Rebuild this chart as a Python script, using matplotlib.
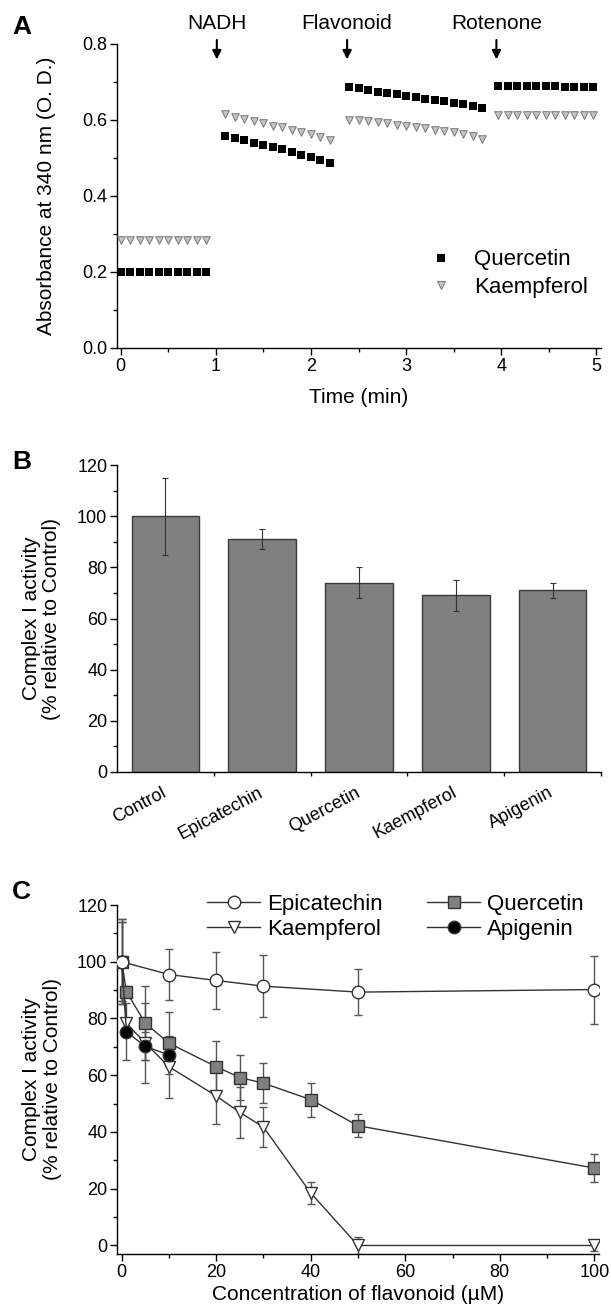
import matplotlib.pyplot as plt
from matplotlib.ticker import MultipleLocator, FixedLocator
from matplotlib.lines import Line2D

plt.rcParams['font.family'] = ['Liberation Sans', 'DejaVu Sans']
plt.rcParams['axes.linewidth'] = 1.0

# --- Panel A: absorbance traces ---
time_a = [0.0, 0.1, 0.2, 0.3, 0.4, 0.5, 0.6, 0.7, 0.8, 0.9,
          1.1, 1.2, 1.3, 1.4, 1.5, 1.6, 1.7, 1.8, 1.9, 2.0, 2.1, 2.2,
          2.4, 2.5, 2.6, 2.7, 2.8, 2.9, 3.0, 3.1, 3.2, 3.3, 3.4, 3.5, 3.6, 3.7, 3.8,
          3.97, 4.07, 4.17, 4.27, 4.37, 4.47, 4.57, 4.67, 4.77, 4.87, 4.97]
quercetin_a = [0.200, 0.200, 0.200, 0.200, 0.200, 0.200, 0.200, 0.200, 0.200, 0.200,
               0.558, 0.552, 0.547, 0.539, 0.533, 0.528, 0.523, 0.516, 0.509, 0.502, 0.496, 0.486,
               0.686, 0.683, 0.679, 0.674, 0.672, 0.668, 0.664, 0.660, 0.655, 0.653, 0.649, 0.646,
               0.641, 0.637, 0.632,
               0.690, 0.690, 0.690, 0.689, 0.689, 0.689, 0.689, 0.688, 0.688, 0.688, 0.687]
kaempferol_a = [0.284, 0.284, 0.284, 0.284, 0.284, 0.284, 0.284, 0.284, 0.284, 0.284,
                0.615, 0.607, 0.602, 0.597, 0.591, 0.585, 0.581, 0.574, 0.568, 0.562, 0.556, 0.547,
                0.601, 0.600, 0.597, 0.595, 0.591, 0.588, 0.584, 0.582, 0.578, 0.574, 0.572, 0.568,
                0.564, 0.558, 0.550,
                0.612, 0.612, 0.612, 0.612, 0.612, 0.612, 0.612, 0.612, 0.612, 0.612, 0.612]
event_labels = ["NADH", "Flavonoid", "Rotenone"]
event_times = [1.01, 2.38, 3.95]

# --- Panel B: complex I activity, single dose ---
groups_b = ["Control", "Epicatechin", "Quercetin", "Kaempferol", "Apigenin"]
activity_b = [100, 91, 74, 69, 71]
error_b = [15, 4, 6, 6, 3]

# --- Panel C: dose response ---
epi_conc = [0, 10, 20, 30, 50, 100]
epi_act = [100, 95.5, 93.4, 91.4, 89.3, 90.2]
epi_err = [15, 9, 10, 11, 8, 12]

conc = [0, 1, 5, 10, 20, 25, 30, 40, 50, 100]
quer_act = [100, 89.4, 78.3, 71.3, 63.0, 59.2, 57.2, 51.4, 42.2, 27.3]
quer_err = [14, 2, 13, 11, 9, 8, 7, 6, 4, 5]
kaem_act = [100, 78.3, 71.3, 63.0, 52.7, 46.9, 41.7, 18.5, 0, 0]
kaem_err = [15, 2, 14, 11, 10, 9, 7, 4, 3, 2]

api_conc = [0, 1, 5, 10]
api_act = [100, 75.3, 70.2, 67.1]
api_err = [14, 10, 5, 4]

W, H = 611, 1314
fig = plt.figure(figsize=(W / 100, H / 100), dpi=100)


def px_axes(left, right, top, bottom):
    return fig.add_axes([left / W, 1 - bottom / H, (right - left) / W, (bottom - top) / H])


def style(ax):
    for s in ("top", "right"):
        ax.spines[s].set_visible(False)
    ax.tick_params(which="major", direction="out", length=5, width=1, labelsize=13, pad=2)
    ax.tick_params(which="minor", direction="out", length=3, width=1)


# Panel A
axA = px_axes(117, 601, 44, 348)
style(axA)
axA.scatter(time_a, quercetin_a, marker="s", s=26, color="black", linewidths=0, zorder=3)
axA.scatter(time_a, kaempferol_a, marker="v", s=30, facecolor="#c4c4c4", edgecolor="#777777",
            linewidths=0.7, zorder=3)
axA.set_xlim(-0.04, 5.05)
axA.set_ylim(0, 0.8)
axA.xaxis.set_major_locator(MultipleLocator(1))
axA.xaxis.set_minor_locator(MultipleLocator(0.5))
axA.yaxis.set_major_locator(MultipleLocator(0.2))
axA.yaxis.set_minor_locator(MultipleLocator(0.1))
axA.set_xlabel("Time (min)", fontsize=15)
axA.set_ylabel("Absorbance at 340 nm (O. D.)", fontsize=15)
axA.xaxis.set_label_coords(0.5, -0.13)
axA.yaxis.set_label_coords(-0.125, 0.5)
for lab, t in zip(event_labels, event_times):
    axA.annotate("", xy=(t, 0.752), xytext=(t, 0.818), annotation_clip=False,
                 arrowprops=dict(arrowstyle="-|>", color="black", lw=1.5, mutation_scale=13))
    axA.text(t, 0.853, lab, ha="center", va="center", fontsize=15, clip_on=False)
legA = axA.legend(handles=[Line2D([], [], ls="none", marker="s", ms=5.5, color="black", mew=0),
                           Line2D([], [], ls="none", marker="v", ms=6, mfc="#c4c4c4", mec="#777777", mew=0.7)],
                  labels=["Quercetin", "Kaempferol"], loc="upper left", bbox_to_anchor=(0.605, 0.39),
                  frameon=False, fontsize=16, handlelength=1.0, handletextpad=1.0, labelspacing=0.3)

# Panel B
axB = px_axes(117, 601, 465, 772)
style(axB)
xb = list(range(1, len(groups_b) + 1))
axB.bar(xb, activity_b, width=0.7, color="#808080", edgecolor="#3a3a3a", linewidth=1.0, zorder=2)
axB.errorbar(xb, activity_b, yerr=error_b, fmt="none", ecolor="#333333", elinewidth=0.8,
             capsize=2.5, capthick=0.8, zorder=3)
axB.set_xlim(0.5, 5.5)
axB.set_ylim(0, 120)
axB.yaxis.set_major_locator(MultipleLocator(20))
axB.yaxis.set_minor_locator(MultipleLocator(10))
axB.set_xticks(xb)
axB.set_xticklabels(groups_b, rotation=28, ha="right", va="center", rotation_mode="anchor", fontsize=13)
axB.tick_params(axis="x", which="major", length=0, pad=14)
axB.xaxis.set_minor_locator(FixedLocator([1.5, 2.5, 3.5, 4.5, 5.5]))
axB.set_ylabel("Complex I activity\n(% relative to Control)", fontsize=15, linespacing=1.1)
axB.yaxis.set_label_coords(-0.115, 0.5)

# Panel C
axC = px_axes(117, 599, 905, 1254)
style(axC)
eb = dict(fmt="none", ecolor="#555555", elinewidth=1.0, capsize=3, capthick=1.0)
axC.errorbar(conc, kaem_act, yerr=kaem_err, zorder=2, **eb)
axC.errorbar(conc, quer_act, yerr=quer_err, zorder=2, **eb)
axC.errorbar(api_conc, api_act, yerr=api_err, zorder=2, **eb)
axC.errorbar(epi_conc, epi_act, yerr=epi_err, zorder=2, **eb)
line_kw = dict(color="#333333", lw=1.0, ms=9, mew=1.0, mec="#333333")
l_kaem, = axC.plot(conc, kaem_act, marker="v", mfc="white", zorder=3, **line_kw)
l_quer, = axC.plot(conc, quer_act, marker="s", mfc="#808080", zorder=4, **{**line_kw, "ms": 8})
l_api, = axC.plot(api_conc, api_act, marker="o", mfc="black", zorder=5, **line_kw)
l_epi, = axC.plot(epi_conc, epi_act, marker="o", mfc="white", zorder=6, **line_kw)
axC.set_xlim(-1, 101)
axC.set_ylim(-3, 120)
axC.xaxis.set_major_locator(MultipleLocator(20))
axC.xaxis.set_minor_locator(MultipleLocator(10))
axC.yaxis.set_major_locator(MultipleLocator(20))
axC.yaxis.set_minor_locator(MultipleLocator(10))
axC.set_xlabel("Concentration of flavonoid (\u00b5M)", fontsize=15)
axC.xaxis.set_label_coords(0.5, -0.088)
axC.set_ylabel("Complex I activity\n(% relative to Control)", fontsize=15, linespacing=1.1)
axC.yaxis.set_label_coords(-0.115, 0.5)
axC.legend([l_epi, l_kaem, l_quer, l_api], ["Epicatechin", "Kaempferol", "Quercetin", "Apigenin"],
           ncol=2, loc="upper left", bbox_to_anchor=(0.145, 1.09), frameon=False, fontsize=16,
           handlelength=2.4, handletextpad=0.3, columnspacing=2.0, labelspacing=0.2, numpoints=1)

# Panel letters
for letter, ypx in zip("ABC", [27, 462, 892]):
    fig.text(12 / W, 1 - ypx / H, letter, fontsize=19, fontweight="bold", va="center", ha="left")

fig.savefig("out.png", dpi=100)
